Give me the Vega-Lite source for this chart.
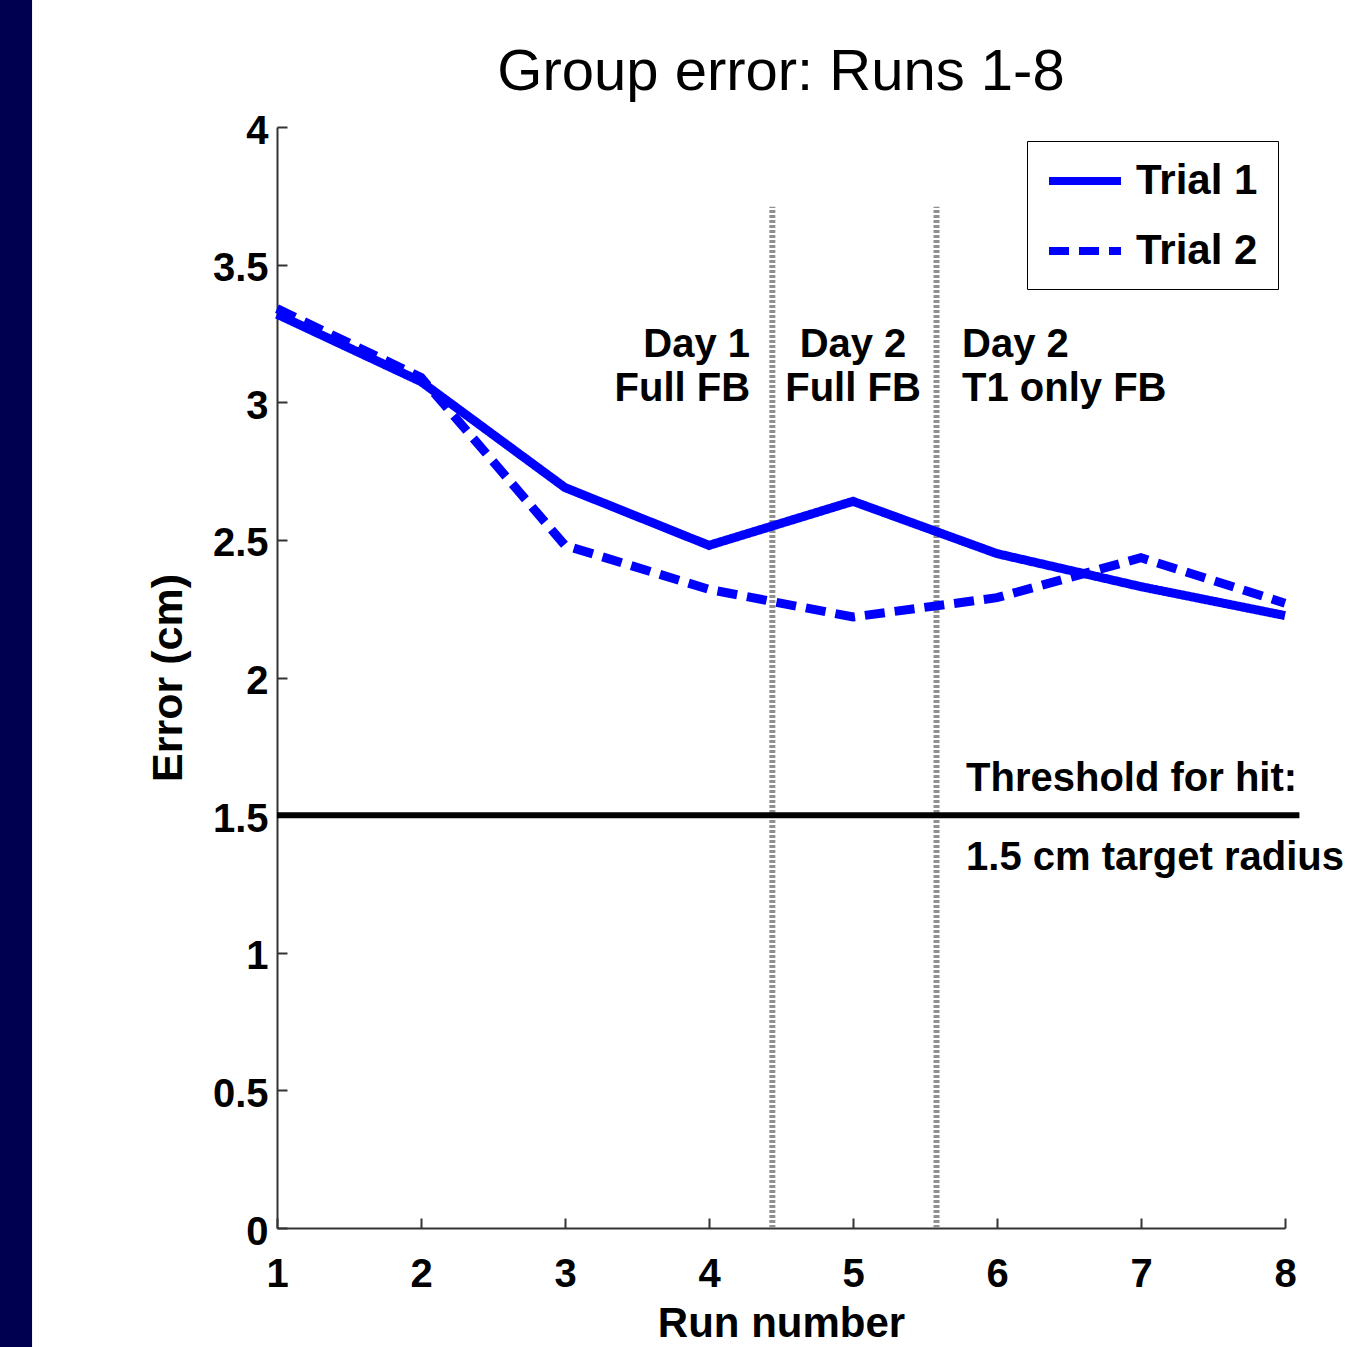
{
  "$schema": "https://vega.github.io/schema/vega-lite/v6.json",
  "width": 1008,
  "height": 1101,
  "autosize": {"type": "none"},
  "padding": {"left": 277, "top": 127, "right": 61, "bottom": 119},
  "background": "white",
  "config": {"view": {"stroke": null}, "font": "Liberation Sans"},
  "title": {"text": "Group error: Runs 1-8", "fontSize": 58, "fontWeight": "normal", "font": "Liberation Sans", "color": "black", "offset": 6, "dy": 110, "anchor": "middle"},
  "layer": [
    {
      "data": {"values": [{}]},
      "mark": {"type": "rect", "color": "#000050", "clip": false},
      "encoding": {
        "x": {"datum": -0.924, "type": "quantitative", "scale": {"domain": [1, 8], "nice": false, "zero": false}},
        "x2": {"datum": -0.701},
        "y": {"datum": 4.47, "type": "quantitative", "scale": {"domain": [0, 4], "nice": false}},
        "y2": {"datum": -0.44}
      }
    },
    {
      "data": {"values": [{"run": 4.44}, {"run": 5.58}]},
      "mark": {"type": "rule", "color": "#909090", "strokeWidth": 6, "strokeDash": [3, 2]},
      "encoding": {
        "x": {"field": "run", "type": "quantitative"},
        "y": {"datum": 0, "type": "quantitative"},
        "y2": {"datum": 3.71}
      }
    },
    {
      "data": {"values": [{}]},
      "mark": {"type": "rule", "color": "black", "strokeWidth": 6, "clip": false},
      "encoding": {
        "x": {"datum": 1, "type": "quantitative"},
        "x2": {"datum": 8.1},
        "y": {"datum": 1.5, "type": "quantitative"}
      }
    },
    {
      "data": {"values": [
        {"run": 1, "error": 3.32, "trial": "Trial 1"},
        {"run": 2, "error": 3.075, "trial": "Trial 1"},
        {"run": 3, "error": 2.69, "trial": "Trial 1"},
        {"run": 4, "error": 2.48, "trial": "Trial 1"},
        {"run": 5, "error": 2.64, "trial": "Trial 1"},
        {"run": 6, "error": 2.45, "trial": "Trial 1"},
        {"run": 7, "error": 2.33, "trial": "Trial 1"},
        {"run": 8, "error": 2.225, "trial": "Trial 1"},
        {"run": 1, "error": 3.34, "trial": "Trial 2"},
        {"run": 2, "error": 3.09, "trial": "Trial 2"},
        {"run": 3, "error": 2.48, "trial": "Trial 2"},
        {"run": 4, "error": 2.32, "trial": "Trial 2"},
        {"run": 5, "error": 2.22, "trial": "Trial 2"},
        {"run": 6, "error": 2.29, "trial": "Trial 2"},
        {"run": 7, "error": 2.435, "trial": "Trial 2"},
        {"run": 8, "error": 2.27, "trial": "Trial 2"}
      ]},
      "mark": {"type": "line", "strokeWidth": 9},
      "encoding": {
        "x": {"field": "run", "type": "quantitative", "scale": {"domain": [1, 8], "nice": false, "zero": false},
          "axis": {"title": "Run number", "values": [1, 2, 3, 4, 5, 6, 7, 8], "format": "d", "grid": false, "labelFlush": false,
            "domainColor": "#333333", "domainWidth": 2, "tickColor": "#333333", "tickWidth": 2, "tickSize": -10,
            "labelFontSize": 40, "labelFontWeight": "bold", "labelColor": "black", "labelPadding": 36, "labelFont": "Liberation Sans",
            "titleFontSize": 42, "titleFontWeight": "bold", "titleColor": "black", "titlePadding": 9, "titleFont": "Liberation Sans"}},
        "y": {"field": "error", "type": "quantitative", "scale": {"domain": [0, 4], "nice": false},
          "axis": {"title": "Error (cm)", "values": [0, 0.5, 1, 1.5, 2, 2.5, 3, 3.5, 4], "format": "~g", "grid": false, "labelFlush": false,
            "domainColor": "#333333", "domainWidth": 2, "tickColor": "#333333", "tickWidth": 2, "tickSize": -10,
            "labelFontSize": 40, "labelFontWeight": "bold", "labelColor": "black", "labelPadding": 19, "labelOffset": 4, "labelFont": "Liberation Sans",
            "titleFontSize": 43, "titleFontWeight": "bold", "titleColor": "black", "titlePadding": 22, "titleFont": "Liberation Sans"}},
        "color": {"field": "trial", "type": "nominal", "scale": {"range": ["#0000ff", "#0000ff"]},
          "legend": {"title": "\u00a0", "titleOrient": "bottom", "titleFontSize": 10, "titlePadding": 7, "orient": "none", "legendX": 750, "legendY": 14, "symbolType": "stroke", "symbolSize": 5184,
            "symbolStrokeWidth": 8, "symbolOffset": 18, "labelFontSize": 42, "labelFontWeight": "bold", "labelColor": "black", "labelFont": "Liberation Sans",
            "labelOffset": 11, "labelExpr": "datum.label + '\u00a0\u2009\u200b'", "rowPadding": 9, "padding": 0, "strokeColor": "black", "fillColor": "white", "labelLimit": 300}},
        "strokeDash": {"field": "trial", "type": "nominal", "scale": {"range": [[1, 0], [20, 10]]},
          "legend": {"title": "\u00a0", "titleOrient": "bottom", "titleFontSize": 10, "titlePadding": 7, "orient": "none", "legendX": 750, "legendY": 14, "symbolType": "stroke", "symbolSize": 5184,
            "symbolStrokeWidth": 8, "symbolOffset": 18, "labelFontSize": 42, "labelFontWeight": "bold", "labelColor": "black", "labelFont": "Liberation Sans",
            "labelOffset": 11, "labelExpr": "datum.label + '\u00a0\u2009\u200b'", "rowPadding": 9, "padding": 0, "strokeColor": "black", "fillColor": "white", "labelLimit": 300}}
      }
    },
    {
      "data": {"values": [{"label": "Day 1", "run": 4.285, "error": 3.208}, {"label": "Full FB", "run": 4.285, "error": 3.048}]},
      "mark": {"type": "text", "align": "right", "baseline": "middle", "fontSize": 40, "fontWeight": "bold", "color": "black", "font": "Liberation Sans"},
      "encoding": {"x": {"field": "run", "type": "quantitative"}, "y": {"field": "error", "type": "quantitative"}, "text": {"field": "label"}}
    },
    {
      "data": {"values": [{"label": "Day 2", "run": 5.0, "error": 3.208}, {"label": "Full FB", "run": 5.0, "error": 3.048}]},
      "mark": {"type": "text", "align": "center", "baseline": "middle", "fontSize": 40, "fontWeight": "bold", "color": "black", "font": "Liberation Sans"},
      "encoding": {"x": {"field": "run", "type": "quantitative"}, "y": {"field": "error", "type": "quantitative"}, "text": {"field": "label"}}
    },
    {
      "data": {"values": [{"label": "Day 2", "run": 5.757, "error": 3.208}, {"label": "T1 only FB", "run": 5.757, "error": 3.048},
        {"label": "Threshold for hit:", "run": 5.785, "error": 1.631}, {"label": "1.5 cm target radius", "run": 5.785, "error": 1.344}]},
      "mark": {"type": "text", "align": "left", "baseline": "middle", "fontSize": 40, "fontWeight": "bold", "color": "black", "font": "Liberation Sans", "clip": false},
      "encoding": {"x": {"field": "run", "type": "quantitative"}, "y": {"field": "error", "type": "quantitative"}, "text": {"field": "label"}}
    }
  ]
}
